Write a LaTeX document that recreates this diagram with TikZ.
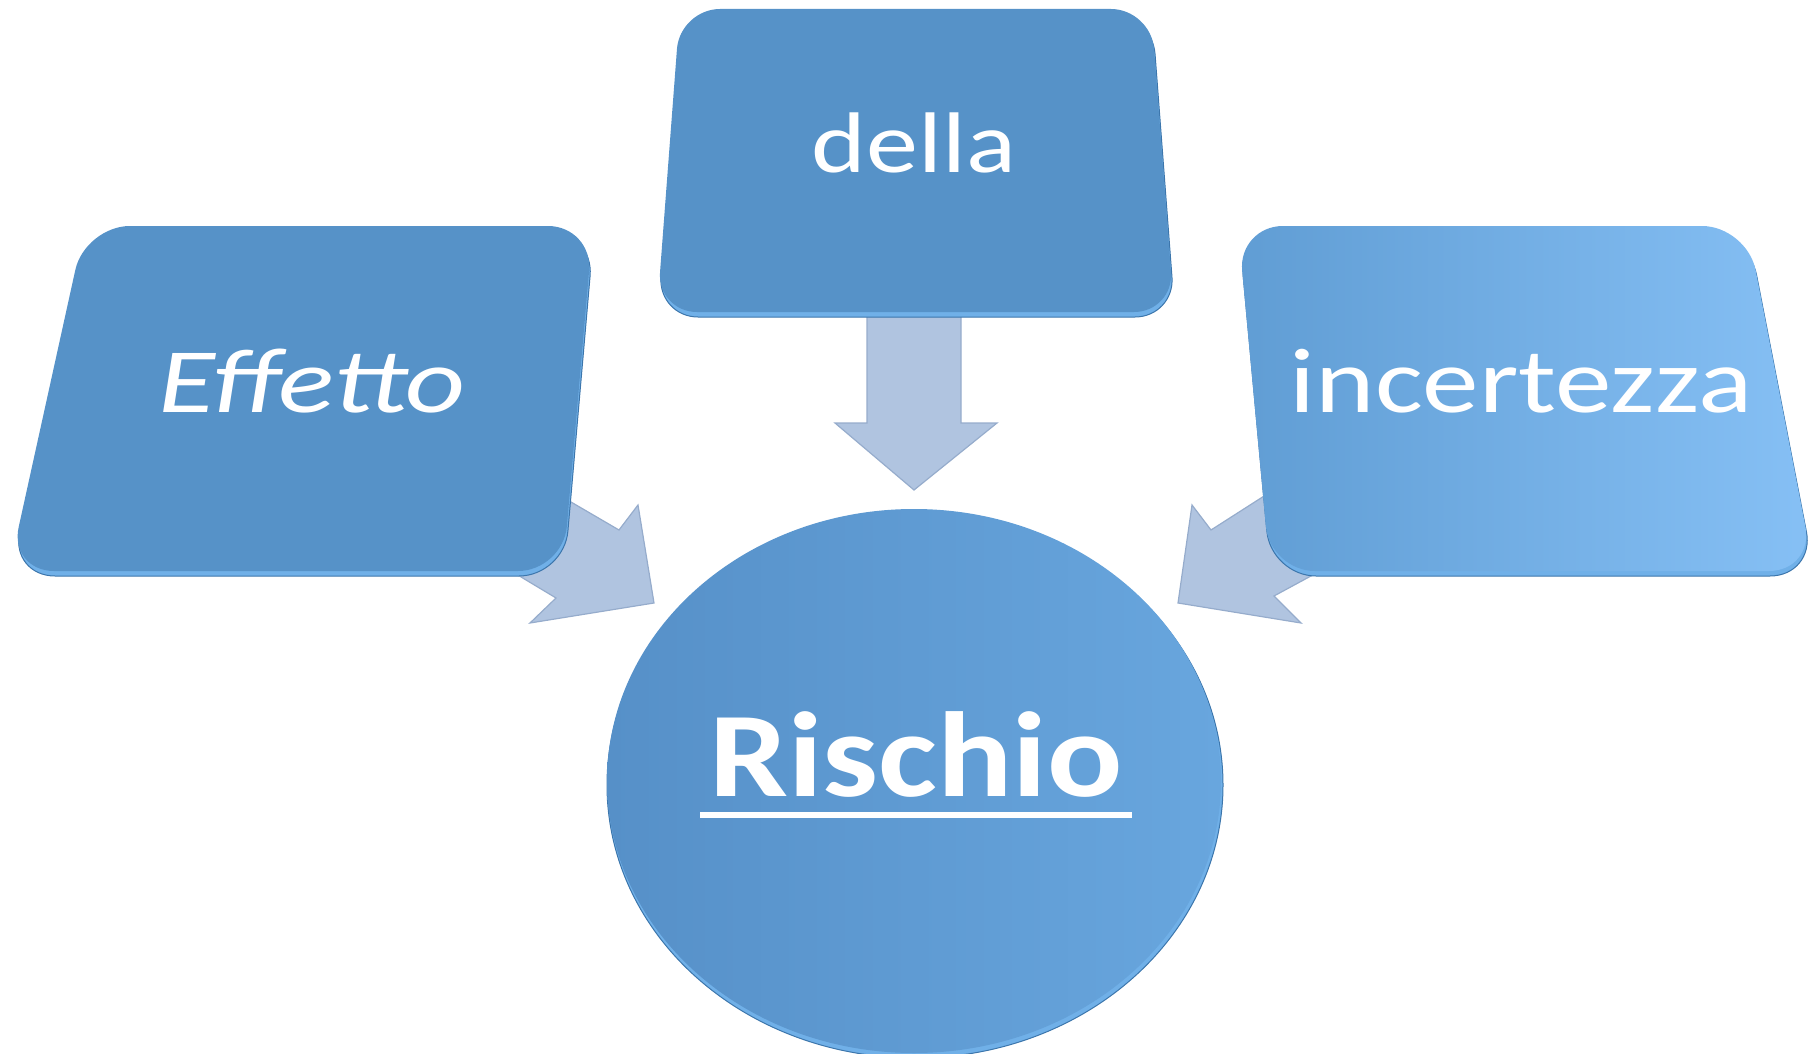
\documentclass[tikz,border=0pt]{standalone}
\usepackage{fontspec}
\usepackage{graphicx}
\setmainfont{Carlito}
\usetikzlibrary{calc}
\definecolor{face}{RGB}{86,146,200}
\definecolor{rim}{RGB}{112,176,232}
\definecolor{rimdark}{RGB}{60,118,172}
\definecolor{arrowc}{RGB}{176,196,224}
\definecolor{arrowedge}{RGB}{150,172,204}
\definecolor{incL}{RGB}{96,157,212}
\definecolor{incR}{RGB}{134,192,245}
\definecolor{cirL}{RGB}{86,144,200}
\definecolor{cirR}{RGB}{104,166,222}
\tikzset{
  blockarrow/.style={fill=arrowc, draw=arrowedge, line width=1.2pt, line join=miter},
  rimshape/.style={fill=rim, draw=rimdark, line width=1pt},
  lbl/.style={text=white, inner sep=0pt, anchor=base},
}
\begin{document}
\begin{tikzpicture}[x=1pt,y=-1pt]
\useasboundingbox (0,0) rectangle (1808,1054);
\clip (0,0) rectangle (1808,1054);

% block arrows (behind the boxes)
\coordinate (aL) at (654,603);
\coordinate (aC) at (914,490);
\coordinate (aR) at (1178,603);
\path[blockarrow] (475,446) -- (619,530) -- (638,505) -- (aL) -- (530,623) -- (556,598) -- (423,518) -- cycle;
\path[blockarrow] (867,290) -- (961,290) -- (961,423) -- (997,423) -- (aC) -- (835,423) -- (867,423) -- cycle;
\path[blockarrow] (1361,434) -- (1211,530) -- (1192,505) -- (aR) -- (1301,623) -- (1274,596) -- (1418,518) -- cycle;

% Effetto box
\path[rimshape, rounded corners=45pt] (86,231) -- (594,231) -- (564,576) -- (10,576) -- cycle;
\path[fill=face, rounded corners=45pt] (85,226) -- (593,226) -- (563,571) -- (9,571) -- cycle;
% della box
\path[rimshape, rounded corners=40pt] (681,14) -- (1152,14) -- (1175,317) -- (658,317) -- cycle;
\path[fill=face, rounded corners=40pt] (680,9) -- (1151,9) -- (1174,312) -- (657,312) -- cycle;
% incertezza box
\path[rimshape, rounded corners=45pt] (1239,231) -- (1748,231) -- (1815,576) -- (1271,576) -- cycle;
\path[left color=incL, right color=incR, rounded corners=45pt] (1238,226) -- (1747,226) -- (1814,571) -- (1270,571) -- cycle;

% Rischio circle
\path[rimshape] (915,785) ellipse [x radius=308, y radius=273];
\path[left color=cirL, right color=cirR] (914,781) ellipse [x radius=307, y radius=272];

% texts
\node[lbl, font=\fontsize{92}{100}\selectfont\itshape] (effetto) at (312,412) {\scalebox{1.27}[1]{Effetto}};
\node[lbl, font=\fontsize{86}{100}\selectfont] (della) at (914,173) {\scalebox{1.21}[1]{della}};
\node[lbl, font=\fontsize{92}{100}\selectfont] (incertezza) at (1521,412) {\scalebox{1.23}[1]{incertezza}};
\node[lbl, font=\fontsize{121}{130}\selectfont\bfseries] (rischio) at (916,796) {\scalebox{1.16}[1]{Rischio}};
\draw[white, line width=6pt] ($(rischio.base west)+(-9,19)$) -- ($(rischio.base east)+(9,19)$);
\end{tikzpicture}
\end{document}
